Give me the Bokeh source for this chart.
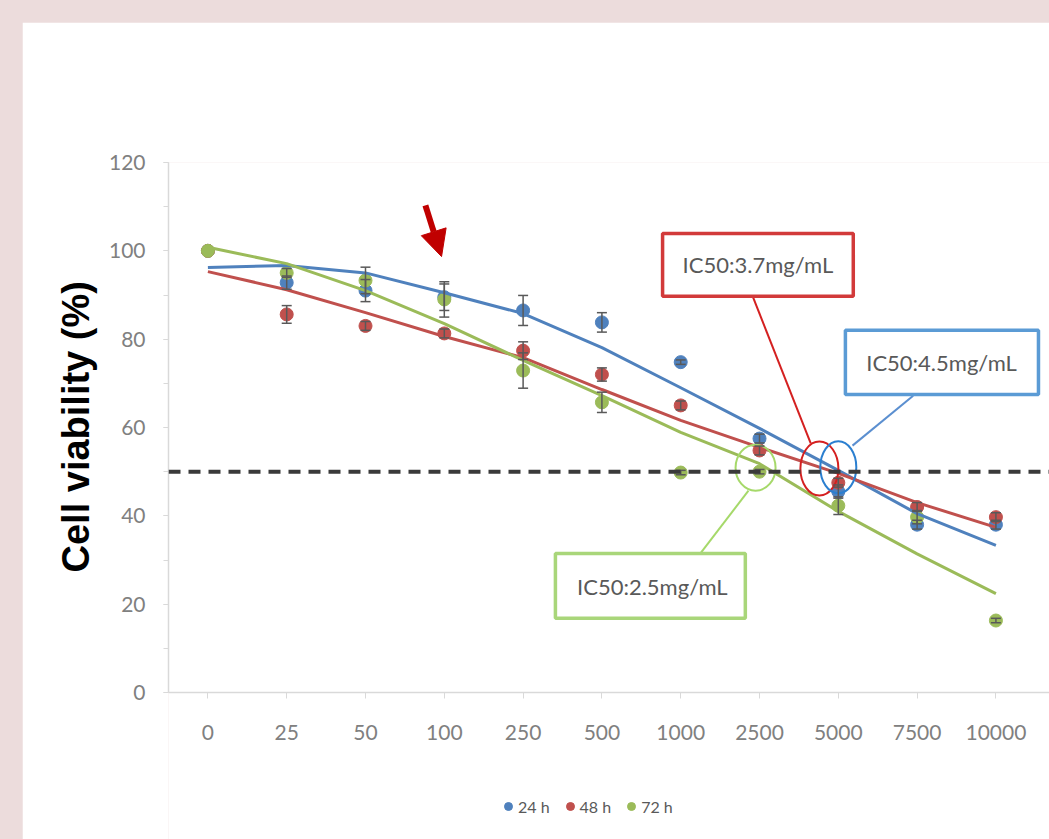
import numpy as np
from bokeh.plotting import figure
from bokeh.models import (Range1d, FixedTicker, SingleIntervalTicker, Span, Whisker, Title,
                          ColumnDataSource, Arrow, NormalHead, Legend, LegendItem, TeeHead)
from bokeh.core.properties import value
from bokeh.embed import file_html
from bokeh.resources import INLINE

# ---------------- data ----------------
doses = ["0", "25", "50", "100", "250", "500", "1000", "2500", "5000", "7500", "10000"]

v24 = [100.0, 92.8, 91.0, 89.5, 86.5, 83.8, 74.8, 57.5, 45.5, 38.0, 38.0]
v48 = [100.0, 85.6, 83.0, 81.3, 77.4, 72.0, 65.0, 54.8, 47.5, 42.0, 39.7]
v72 = [100.0, 95.0, 93.3, 89.0, 72.9, 65.7, 49.8, 50.0, 42.3, 39.7, 16.3]

e24 = [0.0, 1.5, 2.5, 3.0, 3.4, 2.2, 0.5, 1.0, 1.5, 1.0, 1.0]
e48 = [0.0, 2.0, 1.0, 1.0, 2.0, 1.5, 1.0, 1.0, 1.0, 1.0, 1.0]
e72 = [0.0, 1.0, 3.0, 4.0, 4.0, 2.3, 0.5, 0.5, 2.0, 1.5, 0.5]

# trend lines at each dose
t24 = [96.2, 96.7, 95.0, 90.5, 85.8, 78.1, 69.0, 59.8, 50.3, 40.5, 33.3]
t48 = [95.3, 91.2, 86.0, 80.6, 75.8, 68.6, 61.6, 55.5, 49.6, 43.0, 37.4]
t72 = [100.8, 97.1, 91.0, 83.5, 75.2, 67.2, 58.9, 51.8, 41.0, 31.4, 22.4]

series_labels = ["24 h", "48 h", "72 h"]
ic50_labels = ["IC50:3.7mg/mL", "IC50:4.5mg/mL", "IC50:2.5mg/mL"]
y_title = "Cell viability (%)"
threshold = 50

# ---------------- styling ----------------
C24, C48, C72 = "#4f81bd", "#c0504d", "#9bbb59"
FONT = "Lato"
GREY = "#808080"
AXIS = "#d9d9d9"

n = len(doses)
xs = np.arange(n) + 0.5

# the frame runs down to the bottom of the panel so the legend below the x axis is not clipped;
# the x axis is pinned at y = 0 and the y axis is bounded to 0..120
p = figure(width=1027, height=817, output_backend="svg", toolbar_location=None,
           x_range=Range1d(0, 11.18), y_range=Range1d(-33.28, 120),
           min_border_left=146, min_border_right=0, min_border_top=140, min_border_bottom=0)
p.background_fill_color = "white"
p.border_fill_color = "white"
p.outline_line_color = None
p.xgrid.visible = False
p.ygrid.visible = False

# x axis
xa = p.xaxis[0]
xa.fixed_location = 0
xa.ticker = FixedTicker(ticks=list(xs))
xa.major_label_overrides = {float(x): d for x, d in zip(xs, doses)}
xa.axis_line_color = AXIS
xa.axis_line_width = 1.5
xa.major_tick_line_color = AXIS
xa.major_tick_out = 6
xa.major_tick_in = 0
xa.minor_tick_line_color = None
xa.major_label_standoff = 26
xa.major_label_text_font = FONT
xa.major_label_text_font_size = "21px"
xa.major_label_text_color = GREY

# y axis
ya = p.yaxis[0]
ya.bounds = (0, 120)
ya.ticker = SingleIntervalTicker(interval=20, num_minor_ticks=2)
ya.axis_line_color = AXIS
ya.axis_line_width = 1.5
ya.major_tick_line_color = AXIS
ya.minor_tick_line_color = AXIS
ya.major_tick_out = 5
ya.major_tick_in = 0
ya.minor_tick_out = 5
ya.minor_tick_in = 0
ya.major_label_standoff = 18
ya.major_label_text_font = FONT
ya.major_label_text_font_size = "21px"
ya.major_label_text_color = GREY

# y axis title, placed beside the 0..120 part of the axis
p.add_layout(Title(text=y_title, align="left", offset=267, standoff=18,
                   text_font="Liberation Sans", text_font_style="bold",
                   text_font_size="38px", text_color="black"), "left")

# markers
renderers = []
for vals, col in ((v24, C24), (v48, C48), (v72, C72)):
    r = p.scatter(xs, vals, size=13, marker="circle", fill_color=col, line_color=col)
    renderers.append(r)

# error bars
for vals, errs in ((v24, e24), (v48, e48), (v72, e72)):
    keep = [i for i in range(n) if errs[i] > 0]
    src = ColumnDataSource(dict(x=[xs[i] for i in keep],
                                up=[vals[i] + errs[i] for i in keep],
                                lo=[vals[i] - errs[i] for i in keep]))
    w = Whisker(source=src, base="x", upper="up", lower="lo", level="overlay",
                line_color="#595959", line_width=1.5,
                upper_head=TeeHead(size=10, line_color="#595959", line_width=1.5),
                lower_head=TeeHead(size=10, line_color="#595959", line_width=1.5))
    p.add_layout(w)

# trend lines
for tr, col in ((t24, C24), (t48, C48), (t72, C72)):
    p.line(xs, tr, line_color=col, line_width=3)

# 50 % threshold
p.add_layout(Span(location=threshold, dimension="width", line_color="#3a3a3a",
                  line_width=4, line_dash="12 8", level="overlay"))

# IC50 callouts
callouts = [
    dict(box=(6.27, 8.69, 89.7, 103.9), txt=(7.48, 96.8), seg=((7.42, 89.4), (8.15, 56.4)),
         ell=(8.26, 50.7, 38, 54), box_col="#d23a3a", ell_col="#d42020", seg_col="#d42020",
         label=ic50_labels[0]),
    dict(box=(8.59, 11.04, 67.5, 82.0), txt=(9.81, 74.8), seg=((9.45, 67.2), (8.68, 55.9)),
         ell=(8.50, 51.0, 36, 52), box_col="#5b9bd5", ell_col="#2b7fd0", seg_col="#5b8fd0",
         label=ic50_labels[1]),
    dict(box=(4.91, 7.32, 16.8, 31.5), txt=(6.14, 23.9), seg=((7.36, 45.7), (6.75, 31.5)),
         ell=(7.45, 50.9, 40, 46), box_col="#a9d67a", ell_col="#a6d96a", seg_col="#a6d96a",
         label=ic50_labels[2]),
]
for c in callouts:
    (x0, y0), (x1, y1) = c["seg"]
    p.segment(x0=[x0], y0=[y0], x1=[x1], y1=[y1], line_color=c["seg_col"], line_width=2)
    ex, ey, ew, eh = c["ell"]
    p.ellipse(x=[ex], y=[ey], width=ew, height=eh, width_units="screen", height_units="screen",
              fill_alpha=0, line_color=c["ell_col"], line_width=2)
    l, r, b, t = c["box"]
    p.quad(left=[l], right=[r], bottom=[b], top=[t], fill_color="white",
           line_color=c["box_col"], line_width=3.5)
    tx, ty = c["txt"]
    p.text(x=[tx], y=[ty], text=[c["label"]], text_align="center", text_baseline="middle",
           text_font=value(FONT), text_font_size="22px", text_color="#595959")

# red arrow
p.add_layout(Arrow(end=NormalHead(size=26, fill_color="#c00000", line_color="#c00000"),
                   x_start=3.26, y_start=110.3, x_end=3.465, y_end=98.7,
                   line_color="#c00000", line_width=6))

# legend under the x axis
legend = Legend(items=[LegendItem(label=lab, renderers=[r]) for lab, r in zip(series_labels, renderers)],
                orientation="horizontal", location=(330, 23), padding=0, margin=0,
                glyph_width=20, glyph_height=20, label_standoff=0, spacing=10,
                label_text_font=FONT, label_text_font_size="16px", label_text_color="#595959",
                border_line_color=None, background_fill_alpha=0)
p.add_layout(legend)

html = file_html(p, INLINE)
html = html.replace("</head>",
                    "<style>html,body{background:#ecdcdc;overflow:hidden;}"
                    "body{margin:0;padding:22px 0 0 22px;}</style></head>", 1)
open("out.html", "w").write(html)
